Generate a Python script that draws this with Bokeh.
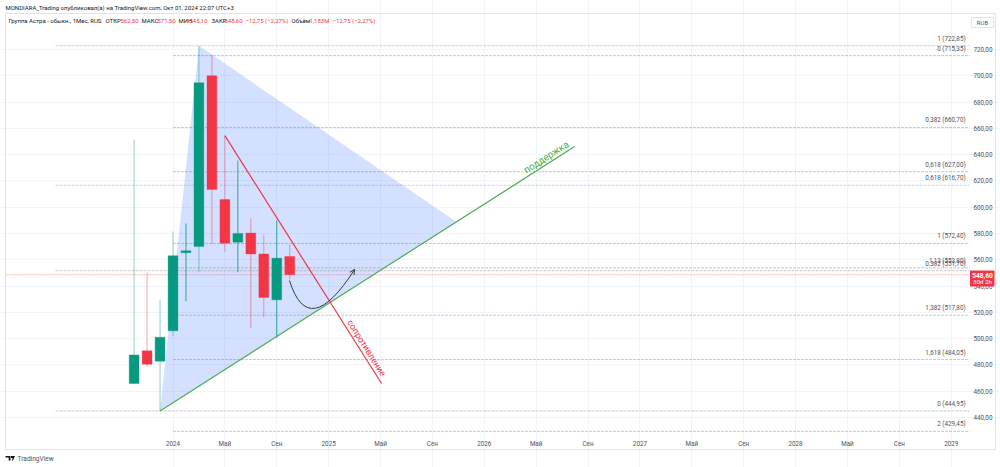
from bokeh.plotting import figure
from bokeh.embed import file_html
from bokeh.resources import INLINE
from bokeh.core.properties import value
from bokeh.models import (ColumnDataSource, FixedTicker, Label, BoxAnnotation, Arrow,
                          OpenHead, PolyAnnotation)

# ---------- data ----------
candle_idx = [-3, -2, -1, 0, 1, 2, 3, 4, 5, 6, 7, 8, 9]
candle_open = [465.8, 490.7, 482.8, 505.9, 565.3, 570.0, 700.0, 605.8, 573.4, 580.3, 564.4, 529.5, 562.5]
candle_close = [487.6, 480.5, 501.0, 563.0, 566.8, 694.7, 613.5, 572.6, 580.0, 564.4, 531.3, 561.2, 548.6]
candle_high = [651.5, 550.0, 529.5, 581.5, 587.6, 722.85, 716.0, 654.5, 635.5, 591.6, 578.9, 589.7, 571.5]
candle_low = [465.8, 478.7, 444.95, 502.0, 528.5, 550.5, 572.0, 566.0, 550.5, 507.9, 516.3, 500.6, 545.1]

fib_long_values = [722.85, 616.70, 551.70, 444.95]
fib_short_values = [715.35, 660.70, 627.00, 572.40, 553.80, 517.80, 484.05, 429.45]
fib_label_values = [722.85, 715.35, 660.70, 627.00, 616.70, 572.40, 553.80, 551.70, 517.80, 484.05, 444.95, 429.45]
fib_label_text = ["1 (722,85)", "0 (715,35)", "0,382 (660,70)", "0,618 (627,00)", "0,618 (616,70)", "1 (572,40)",
                  "1,13 (553,80)", "0,382 (551,70)", "1,382 (517,80)", "1,618 (484,05)", "0 (444,95)", "2 (429,45)"]

triangle_x = [-1, 2, 21.86]
triangle_y = [444.95, 722.85, 588.7]
support_x = [-1, 30.96]
support_y = [444.95, 646.2]
resist_x = [4, 16.08]
resist_y = [654.5, 465.8]
curve_x = [8.98, 10.45, 14.0]
curve_y = [544.2, 497.8, 552.6]

last_price = 548.60
price_ticks = list(range(440, 721, 20))
price_labels = {t: f"{t},00" for t in price_ticks}
time_ticks = [0, 4, 8, 12, 16, 20, 24, 28, 32, 36, 40, 44, 48, 52, 56, 60]
time_labels = ["2024", "Май", "Сен", "2025", "Май", "Сен", "2026", "Май", "Сен",
               "2027", "Май", "Сен", "2028", "Май", "Сен", "2029"]

# ---------- style ----------
GREEN, RED = "#089981", "#f23645"
TXT = "#131722"
FONT = "Roboto"
GRID = "#f2f4f9"
PLOT_L, PLOT_R, PLOT_B, PLOT_T = -12.91, 61.41, 426.2, 747.4

# the frame fills the whole canvas so the chrome around the pane can be drawn in it
p = figure(width=1000, height=467, output_backend="svg", toolbar_location=None,
           x_range=(-13.3, 63.8), y_range=(401.9, 757.29), y_axis_location="right",
           min_border_left=0, min_border_right=0, min_border_top=0, min_border_bottom=0,
           background_fill_color="white", border_fill_color="white", outline_line_color=None)

for ax, ticks, labels in ((p.xaxis[0], time_ticks, dict(zip(time_ticks, time_labels))),
                          (p.yaxis[0], price_ticks, price_labels)):
    ax.ticker = FixedTicker(ticks=ticks)
    ax.major_label_overrides = labels
    ax.axis_line_color = None
    ax.major_tick_line_color = None
    ax.minor_tick_line_color = None
    ax.major_tick_out = 0
    ax.major_tick_in = 0
    ax.minor_tick_out = 0
    ax.major_label_text_font = FONT
    ax.major_label_text_font_size = "6.3px"
    ax.major_label_text_color = "#50535e"
    ax.major_label_standoff = 4
p.xaxis[0].fixed_location = PLOT_B
p.yaxis[0].fixed_location = PLOT_R
p.xgrid.ticker = FixedTicker(ticks=time_ticks)
p.ygrid.ticker = FixedTicker(ticks=price_ticks)
p.xgrid.bounds = (PLOT_B, PLOT_T)
p.ygrid.bounds = (PLOT_L, PLOT_R)
p.xgrid.grid_line_color = GRID
p.ygrid.grid_line_color = GRID

# triangle under everything
p.patch(triangle_x, triangle_y, fill_color="#2962ff", fill_alpha=0.2, line_color=None)

# levels
LEFT_LONG, LEFT_SHORT = -9.06, 0
for v in fib_long_values:
    p.line([LEFT_LONG, PLOT_R], [v, v], line_color="#9598a1", line_width=1.2, line_alpha=0.42, line_dash=[3, 1])
for v in fib_short_values:
    p.line([LEFT_SHORT, PLOT_R], [v, v], line_color="#787b86", line_width=1, line_alpha=0.42, line_dash=[3, 1])
p.line([PLOT_L, PLOT_R], [last_price, last_price], line_color=RED, line_alpha=0.35, line_width=1, line_dash=[2, 1])

# candles
colors = [GREEN if c >= o else RED for o, c in zip(candle_open, candle_close)]
crisp = {1, 5, 8}
src = ColumnDataSource(dict(x=candle_idx, top=[max(a) for a in zip(candle_open, candle_close)],
                            bottom=[min(a) for a in zip(candle_open, candle_close)],
                            high=candle_high, low=candle_low, color=colors,
                            wick_alpha=[0.8 if i in crisp else 0.45 for i in candle_idx]))
p.segment("x", "low", "x", "high", source=src, line_color="color", line_alpha="wick_alpha", line_width=1)
p.vbar("x", 0.76, "bottom", "top", source=src, fill_color="color", line_color="color", line_alpha=0.35, line_width=1)

# drawings
p.line(support_x, support_y, line_color="#4caf50", line_width=1.2)
p.line(resist_x, resist_y, line_color=RED, line_width=1.2)
p.quadratic(x0=[curve_x[0]], y0=[curve_y[0]], cx=[curve_x[1]], cy=[curve_y[1]], x1=[curve_x[2]], y1=[curve_y[2]],
            line_color="#363a45", line_width=1)
p.add_layout(Arrow(end=OpenHead(size=5, line_width=1, line_color="#363a45"), line_alpha=0,
                   x_start=curve_x[2] + (curve_x[1] - curve_x[2]) * 0.1,
                   y_start=curve_y[2] + (curve_y[1] - curve_y[2]) * 0.1,
                   x_end=curve_x[2], y_end=curve_y[2]))

p.text([28.76], [638.2], text=["поддержка"], angle=[32.7], angle_units="deg", text_align="center",
       text_baseline="middle", text_color="#4caf50", text_font=value(FONT), text_font_size="9.8px")
p.text([14.92], [492.8], text=["сопротивление"], angle=[-57.7], angle_units="deg", text_align="center",
       text_baseline="middle", text_color=RED, text_font=value(FONT), text_font_size="9px")

# fib labels
p.text([PLOT_R - 0.3] * len(fib_label_values), fib_label_values, text=fib_label_text, text_align="right",
       text_baseline="bottom", text_color="#50535e", text_font=value(FONT), text_font_size="6.3px", y_offset=-3)

# ---------- chrome in page pixels (screen units count from the frame's bottom-left) ----------
FY = 467


def lab(x, y, t, color=TXT, size="6px", align="left", style="normal"):
    p.add_layout(Label(x=x, y=FY - y, x_units="screen", y_units="screen", text=t, text_color=color,
                       text_font=FONT, text_font_size=size, text_align=align, text_baseline="middle",
                       text_font_style=style))


def box(l, r, t, b, fill=None, line=None):
    p.add_layout(BoxAnnotation(left=l, right=r, top=FY - t, bottom=FY - b, left_units="screen",
                               right_units="screen", top_units="screen", bottom_units="screen",
                               fill_color=fill or "white", fill_alpha=1 if fill else 0,
                               line_color=line or "white", line_width=1, line_alpha=1 if line else 0))


box(5, 995, 13, 449, line="#e0e3eb")
box(971, 993, 17, 27, fill="white", line="#e0e3eb")
lab(982, 22, "RUB", "#50535e", "6px", "center")
box(969.5, 994, 270, 286, fill=RED)
lab(982, 274.5, f"{last_price:.2f}".replace(".", ","), "white", "6.6px", "center", "bold")
lab(982, 281.5, "30d 2h", "white", "6.2px", "center")

lab(5, 7, "MONDIARA_Trading опубликовал(а) на TradingView.com, Окт 01, 2024 22:07 UTC+3", TXT)
lab(8, 20, "Группа Астра - обыкн., 1Мес, RUS", TXT)
for x, t, c in [(105, "ОТКР", TXT), (120, "562,50", RED), (141, "МАКС", TXT), (157, "571,50", RED),
                (178, "МИН", TXT), (189, "545,10", RED), (211, "ЗАКР", TXT), (224, "548,60", RED),
                (245, "−12,75 (−2,27%)", RED), (291, "Объём", TXT), (309, "1,183M", RED),
                (332, "−12,75 (−2,27%)", RED)]:
    lab(x, 20, t, c)

for xs, ys in ([[5, 10, 10, 8.2, 8.2, 6.8, 6.8, 5], [455.5, 455.5, 460, 460, 457, 457, 457, 457]],
               [[10.5, 14.5, 12.5, 11.5, 12, 10.5], [455.5, 455.5, 460, 460, 457.5, 457.5]]):
    p.add_layout(PolyAnnotation(xs=xs, ys=[FY - y for y in ys], xs_units="screen", ys_units="screen",
                                fill_color=TXT, fill_alpha=1, line_alpha=0))
lab(17, 458, "TradingView", "#50535e", "6.6px")

open("out.html", "w").write(file_html(p, INLINE))
